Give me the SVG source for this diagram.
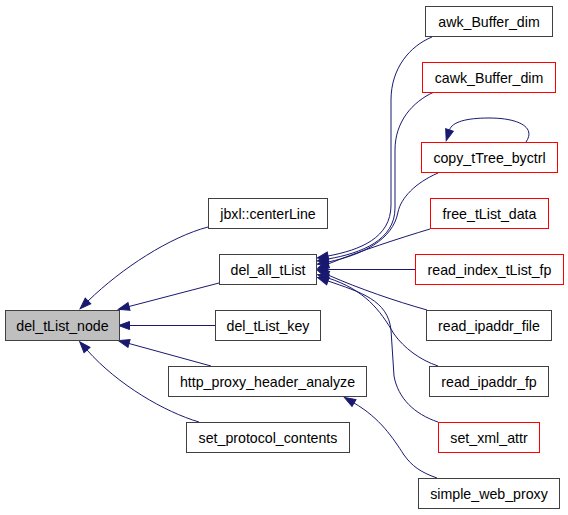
<svg xmlns="http://www.w3.org/2000/svg" width="568" height="515" viewBox="0 0 568 515">
<style>
.n rect{fill:#fff;stroke:#404040;stroke-width:1}
.n.r rect{stroke:#ff0000}
.n.sel rect{fill:#bfbfbf}
.n text{font-family:"Liberation Sans",Arial,sans-serif;font-size:14.2px;fill:#000;text-anchor:middle}
.e path{fill:none;stroke:#191970;stroke-width:1;marker-end:url(#ah)}
</style>
<defs>
<marker id="ah" markerUnits="userSpaceOnUse" markerWidth="12" markerHeight="9" refX="0" refY="4" orient="auto" overflow="visible">
<path d="M0,0 L11,4 L0,8 z" fill="#191970" stroke="#191970" stroke-width="1"/>
</marker>
</defs>
<rect width="568" height="515" fill="#fff"/>
<g id="edges" class="e">
<path d="M208,227 C170,237 122,268 88,301"/>
<path d="M219,283 L129,306.5"/>
<path d="M215,325.5 L129.5,325.5"/>
<path d="M211,366 L129,343.5"/>
<path d="M199,422 C165,412 118,385 87,350"/>
<path d="M432,37 C410,46 391,68 391,100 L391,205 C391,238 360,250 328,256"/>
<path d="M434,92 C412,102 395,122 395,150 L395,208 C395,240 362,253 328,259"/>
<path d="M438,173 C415,183 401,198 398,212 C393,240 362,255 328,262"/>
<path d="M430,229 C400,238 360,251 328,264"/>
<path d="M526,142 C536,128 520,118 489,118 C466,118 452,122 449.5,130"/>
<path d="M416,269.5 L328,269.5"/>
<path d="M427,310 C395,301 360,289 328,275"/>
<path d="M438,366 C420,360 404,348 394,334 C380,310 365,290 328,278"/>
<path d="M438,422 C414,414 398,398 394,376 L391,330 C388,300 360,292 328,281"/>
<path d="M437,478 C420,472 412,466 404,455 C393,438 380,418 354,403"/>
</g>
<g id="del_tList_node" class="n sel"><rect x="5.5" y="310.5" width="114" height="30"/><text x="62.5" y="330.5">del_tList_node</text></g>
<g id="jbxl_centerLine" class="n"><rect x="208.5" y="198.5" width="119" height="30"/><text x="268" y="218.5">jbxl::centerLine</text></g>
<g id="del_all_tList" class="n"><rect x="219.5" y="254.5" width="97" height="30"/><text x="268" y="274.5">del_all_tList</text></g>
<g id="del_tList_key" class="n"><rect x="215.5" y="310.5" width="105" height="30"/><text x="268" y="330.5">del_tList_key</text></g>
<g id="http_proxy_header_analyze" class="n"><rect x="168.5" y="366.5" width="198" height="30"/><text x="267.5" y="386.5">http_proxy_header_analyze</text></g>
<g id="set_protocol_contents" class="n"><rect x="186.5" y="422.5" width="163" height="30"/><text x="268" y="442.5">set_protocol_contents</text></g>
<g id="awk_Buffer_dim" class="n"><rect x="425.5" y="6.5" width="127" height="30"/><text x="489" y="26.5">awk_Buffer_dim</text></g>
<g id="cawk_Buffer_dim" class="n r"><rect x="422.5" y="62.5" width="133" height="30"/><text x="489" y="82.5">cawk_Buffer_dim</text></g>
<g id="copy_tTree_byctrl" class="n r"><rect x="421.5" y="142.5" width="136" height="30"/><text x="489.5" y="162.5">copy_tTree_byctrl</text></g>
<g id="free_tList_data" class="n r"><rect x="430.5" y="198.5" width="118" height="30"/><text x="489.5" y="218.5">free_tList_data</text></g>
<g id="read_index_tList_fp" class="n r"><rect x="415.5" y="254.5" width="148" height="30"/><text x="489.5" y="274.5">read_index_tList_fp</text></g>
<g id="read_ipaddr_file" class="n"><rect x="426.5" y="310.5" width="125" height="30"/><text x="489" y="330.5">read_ipaddr_file</text></g>
<g id="read_ipaddr_fp" class="n"><rect x="429.5" y="366.5" width="119" height="30"/><text x="489" y="386.5">read_ipaddr_fp</text></g>
<g id="set_xml_attr" class="n r"><rect x="438.5" y="422.5" width="101" height="30"/><text x="489" y="442.5">set_xml_attr</text></g>
<g id="simple_web_proxy" class="n"><rect x="418.5" y="478.5" width="141" height="30"/><text x="489" y="498.5">simple_web_proxy</text></g>
</svg>
